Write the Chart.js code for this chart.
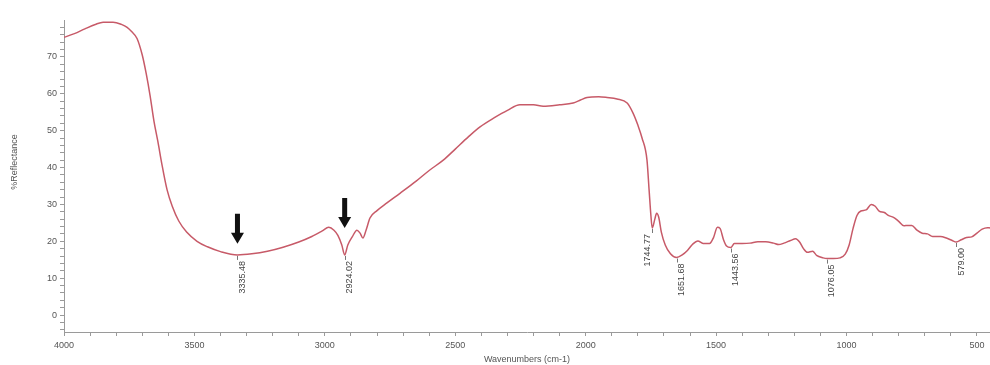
<!DOCTYPE html>
<html lang="en">
  <head>
    <meta charset="UTF-8" />
    <title>FTIR Spectrum</title>
    <script src="https://cdn.jsdelivr.net/npm/chart.js"></script>
    <style>
      html, body { margin: 0; padding: 0; background: #fff; }
      .chart-container { width: 990px; height: 365px; position: relative; }
    </style>
  </head>
  <body>
    <div class="chart-container">
      <canvas id="spectrumChart"></canvas>
    </div>

    <script>
      // spectrum (cm-1, %R)
      const wavenumbers = [
        4000, 3960, 3920, 3880, 3850, 3812, 3780, 3758, 3740, 3720, 3700, 3685,
        3670, 3655, 3640, 3625, 3605, 3585, 3560, 3530, 3490, 3450, 3400, 3335,
        3280, 3220, 3160, 3100, 3050, 3010, 2985, 2965, 2950, 2935, 2924, 2912,
        2895, 2877, 2865, 2854, 2842, 2827, 2800, 2762, 2712, 2650, 2600, 2546,
        2500, 2450, 2405, 2350, 2300, 2252, 2200, 2163, 2100, 2048, 2020, 1995,
        1950, 1918, 1880, 1841, 1818, 1800, 1784, 1765, 1757, 1750, 1745, 1735,
        1728, 1720, 1710, 1695, 1675, 1652, 1630, 1610, 1590, 1570, 1550, 1525,
        1510, 1495, 1485, 1472, 1460, 1444, 1430, 1400, 1370, 1340, 1310, 1280,
        1260, 1240, 1215, 1195, 1180, 1165, 1150, 1130, 1115, 1090, 1076, 1050,
        1025, 1005, 990, 975, 960, 945, 925, 905, 890, 875, 855, 840, 820, 800,
        780, 765, 750, 730, 710, 690, 670, 640, 615, 595, 579, 560, 540, 520,
        500, 480, 460, 450,
      ];
      const reflectance = [
        75.3, 76.3, 77.6, 78.8, 79.4, 79.4, 78.8, 78.0, 76.8, 75.0, 70.5, 65.5,
        59.5, 52.5, 47.0, 41.0, 34.0, 29.5, 25.5, 22.5, 20.0, 18.5, 17.2, 16.3,
        16.6, 17.3, 18.4, 19.8, 21.3, 22.8, 23.8, 23.0, 21.6, 19.0, 16.3, 19.0,
        21.2, 23.0, 22.2, 20.9, 23.0, 26.3, 28.3, 30.4, 33.0, 36.3, 39.2, 42.0,
        45.0, 48.3, 51.0, 53.5, 55.5, 57.0, 57.0, 56.6, 57.0, 57.5, 58.3, 59.0,
        59.2, 59.0, 58.6, 57.5, 54.7, 51.5, 48.0, 42.0, 34.0, 27.0, 23.6, 26.0,
        27.6, 26.5, 22.5, 19.0, 16.6, 15.6, 16.3, 17.5, 19.2, 20.1, 19.4, 19.4,
        21.0, 23.8, 23.5, 20.5, 18.7, 18.3, 19.4, 19.4, 19.5, 19.9, 19.9, 19.5,
        19.1, 19.5, 20.2, 20.7, 19.8, 18.0, 17.0, 17.3, 16.2, 15.5, 15.3, 15.3,
        15.5, 16.5, 19.0, 23.5, 27.0, 28.2, 28.5, 30.0, 29.5, 28.2, 27.8, 27.0,
        26.5, 25.4, 24.2, 24.3, 24.3, 23.0, 22.2, 22.0, 21.3, 21.3, 20.8, 20.2,
        19.8, 20.4, 21.0, 21.2, 22.2, 23.3, 23.7, 23.6,
      ];

      // labelled peaks
      const peakWn = [3335.48, 2924.02, 1744.77, 1651.68, 1443.56, 1076.05, 579.0];
      const peakY = [16.3, 16.3, 23.6, 15.6, 18.3, 15.3, 19.8];
      const peakLabels = ["3335.48", "2924.02", "1744.77", "1651.68", "1443.56", "1076.05", "579.00"];

      // arrows (wavenumber, %R at the arrow tip)
      const arrowWn = [3335, 2924];
      const arrowTipY = [19.3, 23.6];

      const xTicks = [];
      for (let v = 500; v <= 4000; v += 100) xTicks.push(v);
      const yTicks = [];
      for (let v = -4; v <= 78; v += 2) yTicks.push(v);

      const axisColor = "#9a9a9a";
      const textColor = "#555";

      const peakPlugin = {
        id: "peaks",
        afterDatasetsDraw(chart) {
          const { ctx, scales } = chart;
          const xs = scales.x;
          const ys = scales.y;
          ctx.save();
          ctx.font = "9px Arial, 'Liberation Sans', sans-serif";
          ctx.fillStyle = "#444";
          ctx.strokeStyle = "#777";
          ctx.lineWidth = 1;
          peakWn.forEach((wn, i) => {
            const px = xs.getPixelForValue(wn);
            const py = ys.getPixelForValue(peakY[i]);
            ctx.beginPath();
            ctx.moveTo(Math.round(px) + 0.5, py + 1);
            ctx.lineTo(Math.round(px) + 0.5, py + 5);
            ctx.stroke();
            const dx = peakLabels[i] === "1744.77" ? -5 : 5;
            ctx.save();
            ctx.translate(px + dx, py + 6);
            ctx.rotate(-Math.PI / 2);
            ctx.textAlign = "right";
            ctx.textBaseline = "middle";
            ctx.fillText(peakLabels[i], 0, 0);
            ctx.restore();
          });

          // black down arrows
          ctx.fillStyle = "#111";
          arrowWn.forEach((wn, i) => {
            const px = xs.getPixelForValue(wn);
            const tip = ys.getPixelForValue(arrowTipY[i]);
            const top = tip - 30;
            const headH = 11;
            ctx.beginPath();
            ctx.moveTo(px - 2.5, top);
            ctx.lineTo(px + 2.5, top);
            ctx.lineTo(px + 2.5, tip - headH);
            ctx.lineTo(px + 6.5, tip - headH);
            ctx.lineTo(px, tip);
            ctx.lineTo(px - 6.5, tip - headH);
            ctx.lineTo(px - 2.5, tip - headH);
            ctx.closePath();
            ctx.fill();
          });

          // y axis title
          ctx.save();
          ctx.fillStyle = textColor;
          ctx.translate(15, 162);
          ctx.rotate(-Math.PI / 2);
          ctx.textAlign = "center";
          ctx.textBaseline = "middle";
          ctx.fillText("%Reflectance", 0, 0);
          ctx.restore();
          ctx.restore();
        },
      };

      const ctx = document.getElementById("spectrumChart").getContext("2d");
      new Chart(ctx, {
        type: "line",
        data: {
          datasets: [
            {
              data: wavenumbers.map((w, i) => ({ x: w, y: reflectance[i] })),
              borderColor: "#c75a68",
              borderWidth: 1.5,
              pointRadius: 0,
              cubicInterpolationMode: "monotone",
              fill: false,
            },
          ],
        },
        options: {
          responsive: true,
          maintainAspectRatio: false,
          animation: false,
          layout: { padding: { top: 20, right: 0, left: 0, bottom: 0 } },
          plugins: {
            legend: { display: false },
            tooltip: { enabled: false },
          },
          scales: {
            x: {
              type: "linear",
              reverse: true,
              min: 450,
              max: 4000,
              afterBuildTicks: (scale) => {
                scale.ticks = xTicks.map((v) => ({ value: v }));
              },
              afterFit: (scale) => {
                scale.height = 33;
              },
              ticks: {
                autoSkip: false,
                maxRotation: 0,
                padding: 4,
                color: textColor,
                font: { size: 9, family: "Arial, 'Liberation Sans', sans-serif" },
                callback: (v) => (v % 500 === 0 ? v : ""),
              },
              grid: {
                drawOnChartArea: false,
                color: axisColor,
                tickLength: 4,
              },
              border: { color: axisColor },
              title: {
                display: true,
                text: "Wavenumbers (cm-1)",
                color: textColor,
                padding: { top: 0, bottom: 0 },
                font: { size: 9, family: "Arial, 'Liberation Sans', sans-serif" },
              },
            },
            y: {
              min: -4.6,
              max: 80,
              afterBuildTicks: (scale) => {
                scale.ticks = yTicks.map((v) => ({ value: v }));
              },
              afterFit: (scale) => {
                scale.width = 64;
              },
              ticks: {
                autoSkip: false,
                padding: 3,
                color: textColor,
                font: { size: 9, family: "Arial, 'Liberation Sans', sans-serif" },
                callback: (v) => (v % 10 === 0 ? v : ""),
              },
              grid: {
                drawOnChartArea: false,
                color: axisColor,
                tickLength: 4,
              },
              border: { color: axisColor },
            },
          },
        },
        plugins: [peakPlugin],
      });
    </script>
  </body>
</html>
